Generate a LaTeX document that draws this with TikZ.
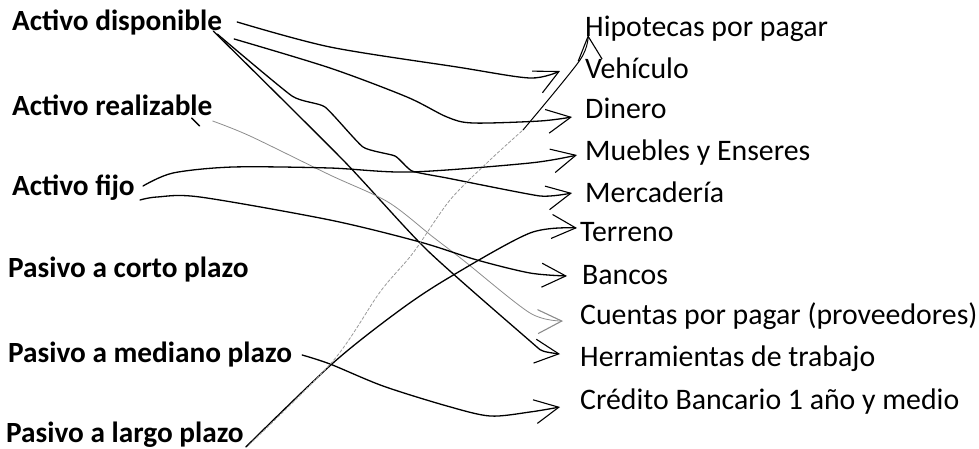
\documentclass[tikz,border=0pt]{standalone}
\usepackage{fontspec}
\setmainfont{Carlito}
\usetikzlibrary{arrows.meta}
\begin{document}
\begin{tikzpicture}[x=1pt,y=-1pt,
  lbl/.style={inner sep=0pt, anchor=base west, font=\fontsize{29.8}{34}\selectfont},
  lft/.style={inner sep=0pt, anchor=base west, font=\fontsize{29.3}{34}\selectfont\bfseries},
  ink/.style={line width=1.3pt, line cap=round, line join=round},
  faint/.style={line width=0.8pt, black!45, line cap=round, line join=round},
  dotty/.style={line width=0.8pt, black!40, dash pattern=on 3pt off 2pt, line cap=round},
  handtip/.style={-{Straight Barb[length=24pt,width=24pt,line width=1.1pt]}}
]
\useasboundingbox (0,0) rectangle (979,448);

% left labels
\node[lft] (ad) at (12,30) {Activo disponible};
\node[lft] (ar) at (12,115) {Activo realizable};
\node[lft] (af) at (12,195) {Activo fijo};
\node[lft] (pc) at (8,277) {Pasivo a corto plazo};
\node[lft] (pm) at (8,362) {Pasivo a mediano plazo};
\node[lft] (pl) at (6,442) {Pasivo a largo plazo};

% right labels
\node[lbl] (hip) at (585,36) {Hipotecas por pagar};
\node[lbl] (veh) at (585,78) {Vehículo};
\node[lbl] (din) at (585,118) {Dinero};
\node[lbl] (mue) at (585,160) {Muebles y Enseres};
\node[lbl] (mer) at (585,202) {Mercadería};
\node[lbl] (ter) at (580,241) {Terreno};
\node[lbl] (ban) at (582,284) {Bancos};
\node[lbl] (cue) at (580,324) {Cuentas por pagar (proveedores)};
\node[lbl] (her) at (580,366) {Herramientas de trabajo};
\node[lbl] (cre) at (580,409) {Crédito Bancario 1 año y medio};

% start points
\coordinate (s1) at ([shift={(15,-8)}]ad.base east);
\coordinate (s2) at ([shift={(12,9)}]ad.base east);
\coordinate (s3) at ([shift={(-5,4)}]ad.base east);
\coordinate (s4) at ([shift={(-9,1)}]ad.base east);
\coordinate (s5) at ([shift={(0,6)}]ar.base east);
\coordinate (c5a) at ([shift={(-21,3)}]ar.base east);
\coordinate (c5b) at ([shift={(-13,11)}]ar.base east);
\coordinate (s6) at ([shift={(8,-9)}]af.base east);
\coordinate (s7) at ([shift={(5,5)}]af.base east);
\coordinate (s8) at ([shift={(10,-7)}]pm.base east);
\coordinate (s9) at ([shift={(2,5)}]pl.base east);
\coordinate (s10) at ([shift={(5,3)}]pl.base east);

% end points (arrow tips)
\coordinate (e1) at ([shift={(-25,-7)}]veh.base west);
\coordinate (e2) at ([shift={(-13,-1)}]din.base west);
\coordinate (e3) at ([shift={(-13,-9)}]mer.base west);
\coordinate (e4) at ([shift={(-20,-12)}]her.base west);
\coordinate (e5) at ([shift={(-17,-3)}]cue.base west);
\coordinate (e6) at ([shift={(-8,-5)}]mue.base west);
\coordinate (e7) at ([shift={(-15,-8)}]ban.base west);
\coordinate (e8) at ([shift={(-20,-2)}]cre.base west);
\coordinate (e9) at ([shift={(-3,-13)}]ter.base west);
\coordinate (e10) at ([shift={(3,-1)}]hip.base west);
\coordinate (m10) at (523,130);

% connectors
\draw[ink,handtip] plot[smooth,tension=0.5] coordinates {(s1) (330,47) (457,67) (530,78) (e1)};
\draw[ink,handtip] plot[smooth,tension=0.5] coordinates {(s2) (330,68) (407,97) (447,117) (473,123) (540,121) (e2)};
\draw[ink,handtip] plot[smooth,tension=0.3] coordinates {(s3) (292,96) (325,107) (363,147) (395,156) (412,171) (447,178) (540,196) (e3)};
\draw[ink,handtip] plot[smooth,tension=0.4] coordinates {(s4) (343,160) (427,250) (530,341) (543,351) (e4)};
\draw[ink] (c5a) -- (c5b);
\draw[faint,handtip] plot[smooth,tension=0.5] coordinates {(s5) (250,136) (330,175) (388,202) (433,237) (463,260) (530,313) (e5)};
\draw[ink,handtip] plot[smooth,tension=0.5] coordinates {(s6) (173,173) (233,167) (330,168) (410,172) (530,163) (e6)};
\draw[ink,handtip] plot[smooth,tension=0.5] coordinates {(s7) (157,197) (200,197) (330,220) (420,242) (477,260) (530,273) (e7)};
\draw[ink,handtip] plot[smooth,tension=0.5] coordinates {(s8) (330,364) (383,386) (447,406) (490,416) (530,412) (e8)};
\draw[ink,handtip] plot[smooth,tension=0.5] coordinates {(s9) (333,363) (400,310) (450,277) (530,233) (e9)};
\draw[dotty] plot[smooth,tension=0.5] coordinates {(s10) (333,361) (380,292) (413,253) (450,200) (490,160) (m10)};
\draw[line width=1pt,line cap=round,handtip] plot[smooth,tension=0.5] coordinates {(m10) (580,60) (e10)};
\end{tikzpicture}
\end{document}
